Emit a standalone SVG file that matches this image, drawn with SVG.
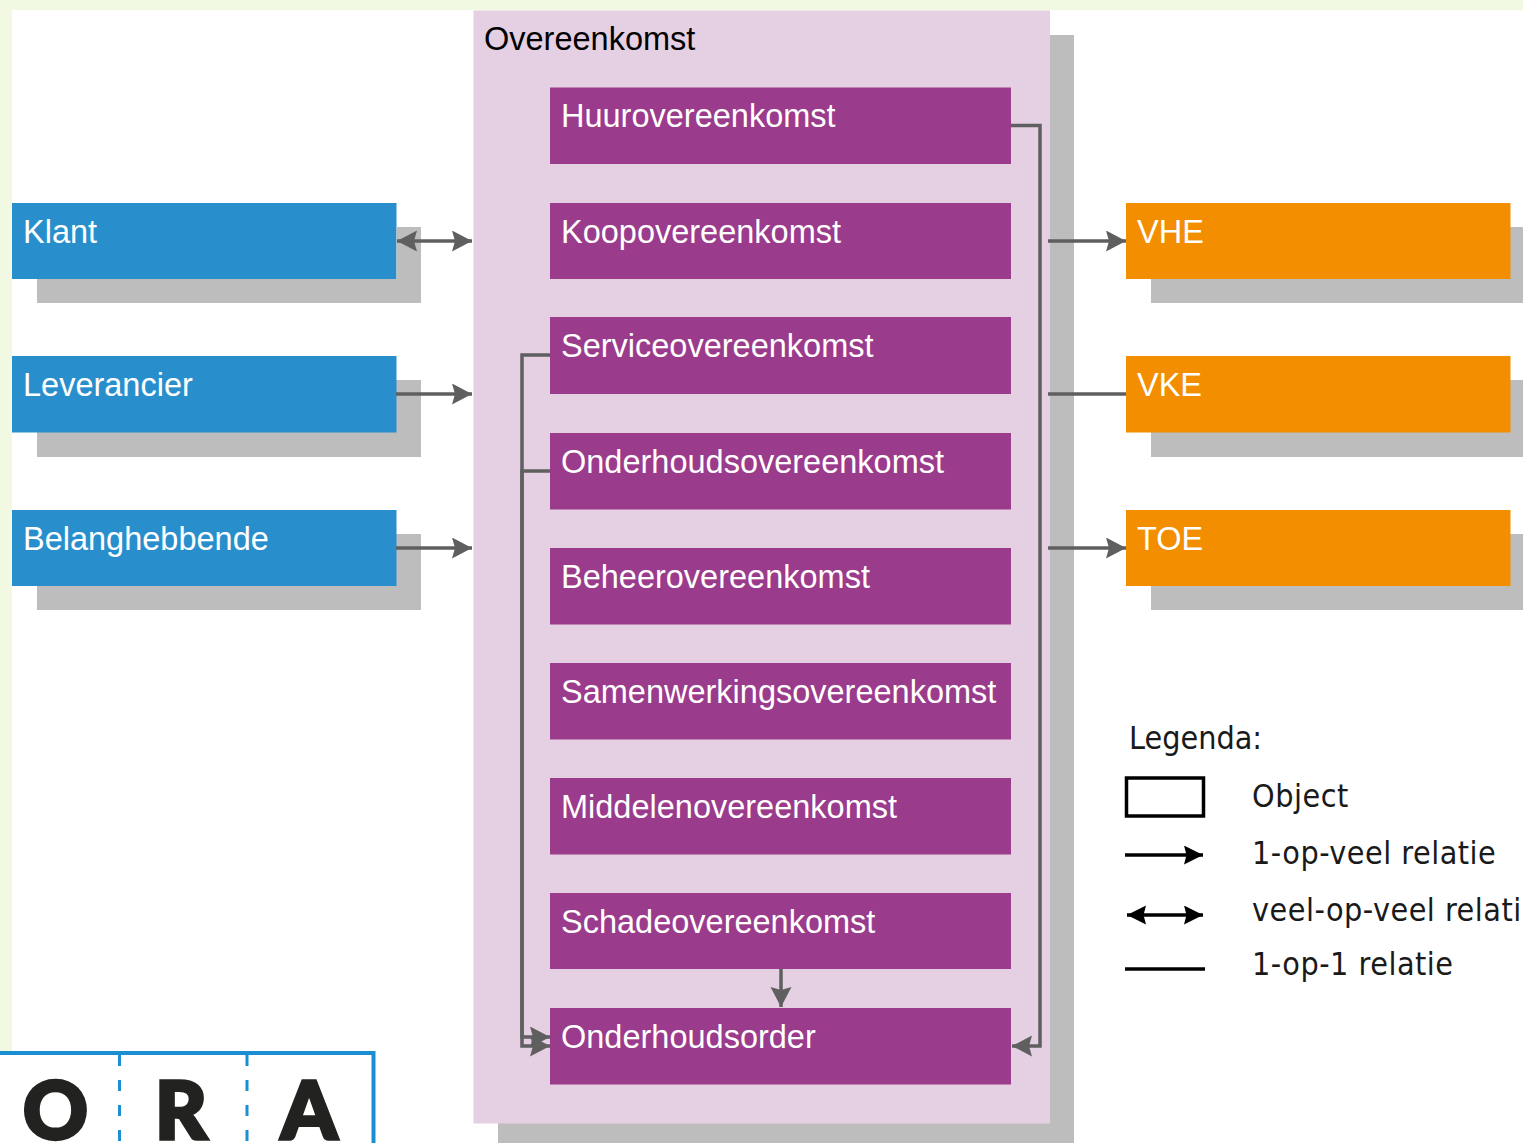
<svg xmlns="http://www.w3.org/2000/svg" width="1523" height="1143" viewBox="0 0 1523 1143">
<style>
.s{fill:#bdbdbd}.b{fill:#298fcc}.p{fill:#9b3b8c}.o{fill:#f28e00}
.t{font:32.500px "Liberation Sans",Arial,sans-serif;fill:#fff}
.l{font-family:"DejaVu Sans",sans-serif;font-size:32px;font-stretch:condensed;letter-spacing:.5px;fill:#1a1a1a}
.c{fill:none;stroke:#5f5f5f;stroke-width:3.5}
.k{fill:none;stroke:#000;stroke-width:3.5}
.ora{font:900 80px Lato,"Open Sans",sans-serif;fill:#222220;stroke:#222220;stroke-width:3.5}
</style>
<defs>
<marker id="a" markerUnits="userSpaceOnUse" markerWidth="21" markerHeight="22" refX="20" refY="10.500" orient="auto-start-reverse"><path d="M0 0L20 10.500L0 21L3 10.500Z" fill="#5f5f5f"/></marker>
<marker id="k" markerUnits="userSpaceOnUse" markerWidth="20" markerHeight="20" refX="19" refY="9.500" orient="auto-start-reverse"><path d="M0 0L19 9.500L0 19L2.500 9.500Z" fill="#000"/></marker>
</defs>
<rect width="1523" height="1143" fill="#fff"/>
<path d="M0 0H1523V10H12V1051H0Z" fill="#f1f9e2"/>
<g id="overeenkomst"><rect x="498" y="35" width="576" height="1108" class="s"/><rect x="473.500" y="10.500" width="576.500" height="1113" fill="#e5cfe2"/><text x="484" y="50" class="t" style="fill:#000">Overeenkomst</text></g>
<g id="klant"><rect x="12" y="203" width="384.500" height="76" class="b"/><rect x="37" y="279" width="384" height="24" class="s"/><rect x="396.500" y="227" width="24.500" height="52" class="s"/><text x="23" y="243" class="t">Klant</text></g>
<g id="leverancier"><rect x="37" y="380" width="384" height="77" class="s"/><rect x="12" y="356" width="384.500" height="76.500" class="b"/><text x="23" y="396" class="t">Leverancier</text></g>
<g id="belanghebbende"><rect x="37" y="534" width="384" height="76" class="s"/><rect x="12" y="510" width="384.500" height="76" class="b"/><text x="23" y="550" class="t">Belanghebbende</text></g>
<g id="vhe"><rect x="1151" y="227" width="372" height="76" class="s"/><rect x="1126" y="203" width="384.500" height="76" class="o"/><text x="1137" y="243" class="t">VHE</text></g>
<g id="vke"><rect x="1151" y="380" width="372" height="77" class="s"/><rect x="1126" y="356" width="384.500" height="76.500" class="o"/><text x="1137" y="396" class="t">VKE</text></g>
<g id="toe"><rect x="1151" y="534" width="372" height="76" class="s"/><rect x="1126" y="510" width="384.500" height="76" class="o"/><text x="1137" y="550" class="t">TOE</text></g>
<g id="huur"><rect x="550" y="87.500" width="461" height="76.500" class="p"/><text x="561" y="127" class="t">Huurovereenkomst</text></g>
<g id="koop"><rect x="550" y="203" width="461" height="76" class="p"/><text x="561" y="242.500" class="t">Koopovereenkomst</text></g>
<g id="service"><rect x="550" y="317" width="461" height="77" class="p"/><text x="561" y="357" class="t">Serviceovereenkomst</text></g>
<g id="onderhoud"><rect x="550" y="433" width="461" height="76.500" class="p"/><text x="561" y="473" class="t">Onderhoudsovereenkomst</text></g>
<g id="beheer"><rect x="550" y="548" width="461" height="76.500" class="p"/><text x="561" y="588" class="t">Beheerovereenkomst</text></g>
<g id="samenwerking"><rect x="550" y="663" width="461" height="76.500" class="p"/><text x="561" y="703" class="t">Samenwerkingsovereenkomst</text></g>
<g id="middelen"><rect x="550" y="778" width="461" height="76.500" class="p"/><text x="561" y="818" class="t">Middelenovereenkomst</text></g>
<g id="schade"><rect x="550" y="893" width="461" height="76" class="p"/><text x="561" y="932.500" class="t">Schadeovereenkomst</text></g>
<g id="order"><rect x="550" y="1008" width="461" height="76.500" class="p"/><text x="561" y="1048" class="t">Onderhoudsorder</text></g>
<g id="connectors">
<path class="c" d="M397 241H472" marker-start="url(#a)" marker-end="url(#a)"/>
<path class="c" d="M396 394H472" marker-end="url(#a)"/>
<path class="c" d="M396 548H472" marker-end="url(#a)"/>
<path class="c" d="M1048 241H1126" marker-end="url(#a)"/>
<path class="c" d="M1048 394H1126"/>
<path class="c" d="M1048 548H1126" marker-end="url(#a)"/>
<path class="c" d="M1011 125.500H1040V1046H1012" marker-end="url(#a)"/>
<path class="c" d="M550 355H522V1037H550" marker-end="url(#a)"/>
<path class="c" d="M550 471H522V1046H550" marker-end="url(#a)"/>
<path class="c" d="M781 969V1007" marker-end="url(#a)"/>
</g>
<g id="legenda">
<text x="1129" y="749" class="l" style="letter-spacing:0">Legenda:</text>
<rect x="1126.500" y="778" width="77" height="38" class="k"/>
<text x="1252" y="807" class="l">Object</text>
<path class="k" d="M1125 855H1203" marker-end="url(#k)"/>
<text x="1252" y="864" class="l">1-op-veel relatie</text>
<path class="k" d="M1127 915H1203" marker-start="url(#k)" marker-end="url(#k)"/>
<text x="1252" y="921" class="l">veel-op-veel relati</text>
<path class="k" d="M1125 969H1205"/>
<text x="1252" y="975" class="l">1-op-1 relatie</text>
</g>
<g id="logo">
<path d="M0 1053H373.500V1143" fill="none" stroke="#1b8fd2" stroke-width="4"/>
<path d="M119.500 1055V1143M247 1055V1143" fill="none" stroke="#1b8fd2" stroke-width="3" stroke-dasharray="11 14"/>
<text x="23" y="1139" class="ora">O</text><text x="155" y="1139" class="ora">R</text><text x="281" y="1139" class="ora">A</text>
</g>
</svg>
